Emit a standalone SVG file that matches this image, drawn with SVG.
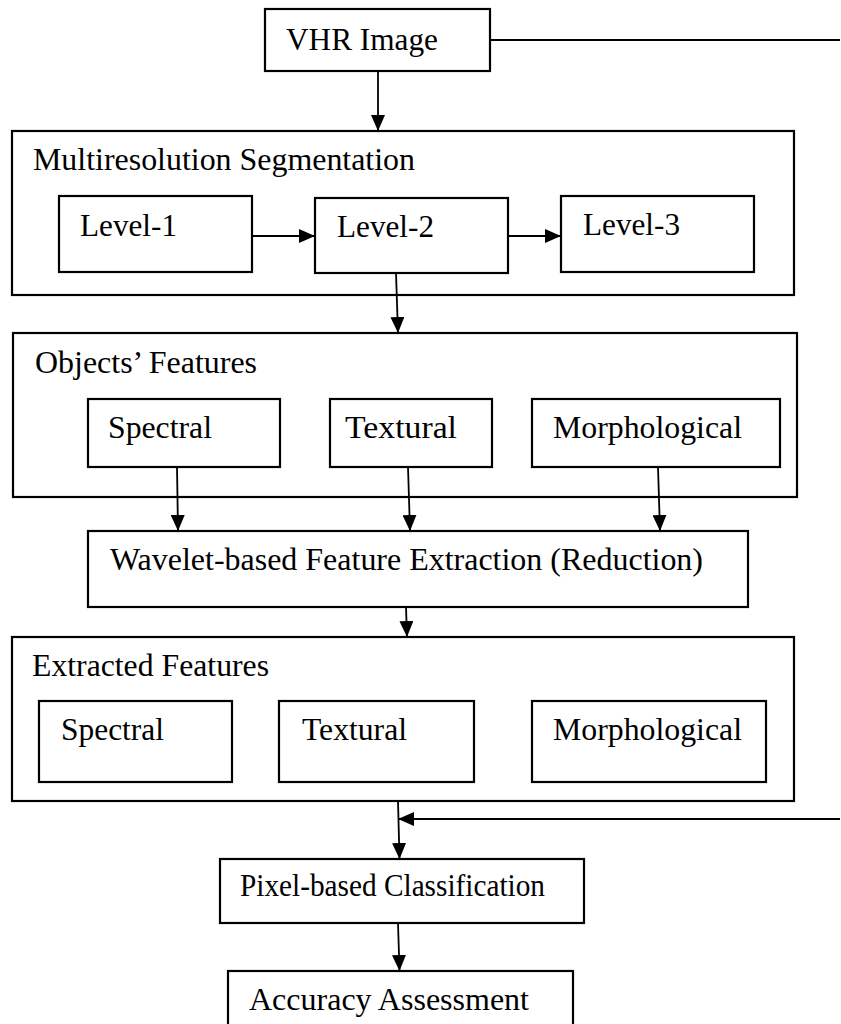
<svg xmlns="http://www.w3.org/2000/svg" width="841" height="1024" viewBox="0 0 841 1024">
<style>
.box{fill:#fff;stroke:#000;stroke-width:2.2}
.t{font-family:"Liberation Serif","Times New Roman",serif;font-size:32px;fill:#000}
.c{stroke:#000;stroke-width:1.8;fill:none}
</style>
<defs>
<marker id="ah" markerUnits="userSpaceOnUse" markerWidth="16" markerHeight="14" refX="16" refY="7" orient="auto">
<path d="M0,0 L16,7 L0,14 z" fill="#000"/>
</marker>
</defs>
<rect width="841" height="1024" fill="#fff"/>
<g id="vhr"><rect class="box" x="265" y="9" width="225" height="62"/><text class="t" x="286" y="50" textLength="152" lengthAdjust="spacingAndGlyphs">VHR Image</text></g>
<g id="multires"><rect class="box" x="12" y="131" width="782" height="164"/><text class="t" x="33" y="170" textLength="382" lengthAdjust="spacingAndGlyphs">Multiresolution Segmentation</text></g>
<g id="level1"><rect class="box" x="59" y="196" width="193" height="76"/><text class="t" x="80" y="236" textLength="97" lengthAdjust="spacingAndGlyphs">Level-1</text></g>
<g id="level2"><rect class="box" x="315" y="198" width="193" height="75"/><text class="t" x="337" y="237" textLength="97" lengthAdjust="spacingAndGlyphs">Level-2</text></g>
<g id="level3"><rect class="box" x="561" y="196" width="193" height="76"/><text class="t" x="583" y="235" textLength="97" lengthAdjust="spacingAndGlyphs">Level-3</text></g>
<g id="objects"><rect class="box" x="13" y="333" width="784" height="164"/><text class="t" x="35" y="373" textLength="222" lengthAdjust="spacingAndGlyphs">Objects’ Features</text></g>
<g id="o-spectral"><rect class="box" x="88" y="399" width="192" height="68"/><text class="t" x="108" y="438" textLength="104" lengthAdjust="spacingAndGlyphs">Spectral</text></g>
<g id="o-textural"><rect class="box" x="330" y="399" width="162" height="68"/><text class="t" x="345" y="438" textLength="112" lengthAdjust="spacingAndGlyphs">Textural</text></g>
<g id="o-morph"><rect class="box" x="532" y="399" width="248" height="68"/><text class="t" x="553" y="438" textLength="189" lengthAdjust="spacingAndGlyphs">Morphological</text></g>
<g id="wavelet"><rect class="box" x="88" y="531" width="660" height="76"/><text class="t" x="110" y="570" textLength="593" lengthAdjust="spacingAndGlyphs">Wavelet-based Feature Extraction (Reduction)</text></g>
<g id="extracted"><rect class="box" x="12" y="637" width="782" height="164"/><text class="t" x="32" y="676" textLength="237" lengthAdjust="spacingAndGlyphs">Extracted Features</text></g>
<g id="e-spectral"><rect class="box" x="39" y="701" width="193" height="81"/><text class="t" x="61" y="740" textLength="103" lengthAdjust="spacingAndGlyphs">Spectral</text></g>
<g id="e-textural"><rect class="box" x="279" y="701" width="195" height="81"/><text class="t" x="302" y="740" textLength="105" lengthAdjust="spacingAndGlyphs">Textural</text></g>
<g id="e-morph"><rect class="box" x="532" y="701" width="234" height="81"/><text class="t" x="553" y="740" textLength="189" lengthAdjust="spacingAndGlyphs">Morphological</text></g>
<g id="pixel"><rect class="box" x="220" y="859" width="364" height="64"/><text class="t" x="240" y="896" textLength="305" lengthAdjust="spacingAndGlyphs">Pixel-based Classification</text></g>
<g id="accuracy"><rect class="box" x="228" y="971" width="345" height="60"/><text class="t" x="249" y="1010" textLength="280" lengthAdjust="spacingAndGlyphs">Accuracy Assessment</text></g>
<g id="connectors">
<line class="c" x1="490" y1="40" x2="840" y2="40"/>
<line class="c" x1="378" y1="71" x2="378" y2="131" marker-end="url(#ah)"/>
<line class="c" x1="252" y1="236" x2="315" y2="236" marker-end="url(#ah)"/>
<line class="c" x1="508" y1="236" x2="561" y2="236" marker-end="url(#ah)"/>
<line class="c" x1="396" y1="273" x2="398" y2="333" marker-end="url(#ah)"/>
<line class="c" x1="177" y1="467" x2="178" y2="531" marker-end="url(#ah)"/>
<line class="c" x1="408" y1="467" x2="410" y2="531" marker-end="url(#ah)"/>
<line class="c" x1="658" y1="467" x2="660" y2="531" marker-end="url(#ah)"/>
<line class="c" x1="406" y1="607" x2="407" y2="637" marker-end="url(#ah)"/>
<line class="c" x1="398" y1="801" x2="399.5" y2="859" marker-end="url(#ah)"/>
<line class="c" x1="840" y1="819" x2="398" y2="819" marker-end="url(#ah)"/>
<line class="c" x1="398" y1="923" x2="399.5" y2="971" marker-end="url(#ah)"/>
</g>
</svg>
